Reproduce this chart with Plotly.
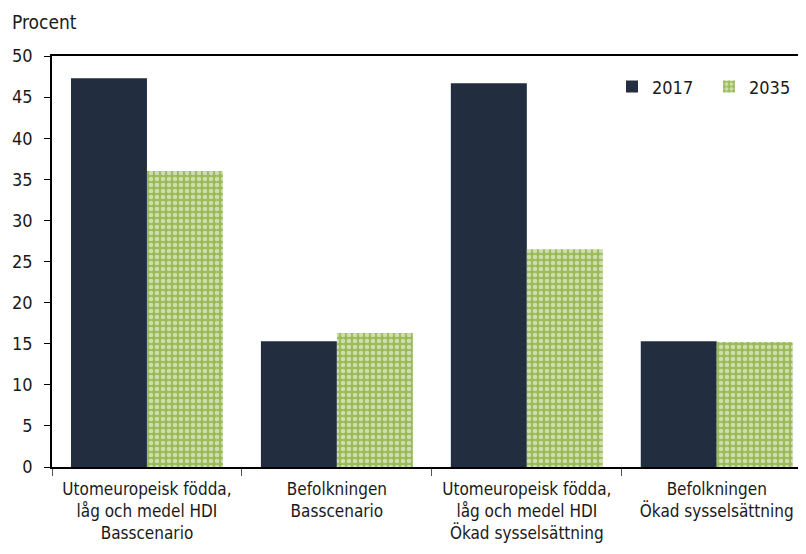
import plotly.graph_objects as go

categories = [
    "Utomeuropeisk födda,<br>låg och medel HDI<br>Basscenario",
    "Befolkningen<br>Basscenario",
    "Utomeuropeisk födda,<br>låg och medel HDI<br>Ökad sysselsättning",
    "Befolkningen<br>Ökad sysselsättning",
]
values_2017 = [47.3, 15.3, 46.7, 15.3]
values_2035 = [36.0, 16.3, 26.5, 15.2]

font_name = "DejaVu Sans Condensed, Liberation Sans Narrow, sans-serif"

fig = go.Figure()
fig.add_trace(go.Bar(
    x=categories, y=values_2017, name="2017",
    marker=dict(color="#222d3f", line=dict(width=0)),
))
fig.add_trace(go.Bar(
    x=categories, y=values_2035, name="2035",
    marker=dict(color="#9bbb59", line=dict(width=0),
                pattern=dict(shape=".", fgcolor="white", bgcolor="#9bbb59",
                             size=6, solidity=0.45)),
))

# the page body adds an 8px offset, margins compensate for it
fig.update_layout(
    width=806, height=554,
    margin=dict(l=44, r=8, t=48, b=95, autoexpand=False),
    paper_bgcolor="white", plot_bgcolor="white",
    font=dict(family=font_name, size=18, color="#1a1a1a"),
    barmode="group", bargap=0.2, bargroupgap=0,
    showlegend=True,
    legend=dict(orientation="h", x=1.0, y=0.97, xanchor="right", yanchor="top",
                font=dict(size=18), bgcolor="rgba(0,0,0,0)",
                traceorder="normal", entrywidth=52, itemwidth=30),
    annotations=[dict(text="Procent", xref="paper", yref="paper", x=-0.056, y=1.05,
                      xanchor="left", yanchor="bottom", showarrow=False,
                      font=dict(size=19))],
)
fig.update_xaxes(
    range=[-0.5, 3.47], showline=True, linecolor="black", linewidth=1.5,
    mirror=True, ticks="outside", tickson="boundaries", ticklen=7,
    tickcolor="#555", tickfont=dict(size=17), showgrid=False, automargin=False,
    ticklabelstandoff=6,
)
fig.update_yaxes(
    range=[0, 50], dtick=5, showline=True, linecolor="black", linewidth=1.5,
    mirror=False, ticks="outside", ticklen=6, tickcolor="black",
    showgrid=False, zeroline=False, tickfont=dict(size=18), automargin=False,
    ticklabelstandoff=8,
)

fig.write_html("out.html")
